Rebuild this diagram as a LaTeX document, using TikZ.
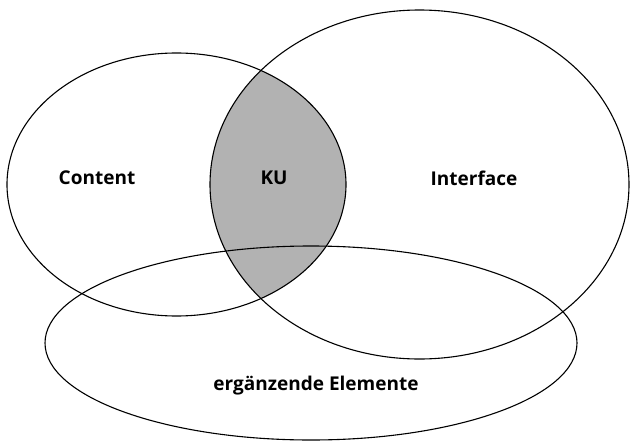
\documentclass[tikz,border=0pt]{standalone}
\usepackage{fontspec}
\setmainfont{Open Sans}
\begin{document}
\begin{tikzpicture}[x=1pt,y=-1pt,
  setline/.style={draw=black,line width=1.1pt},
  setlabel/.style={font=\bfseries\fontsize{19}{22}\selectfont,text=black}]
  \useasboundingbox (0,0) rectangle (630,442);
  % shared part of Content and Interface
  \begin{scope}
    \clip (176.5,184.5) ellipse [x radius=169.5, y radius=131.5];
    \fill[black!30] (419.5,184.5) ellipse [x radius=209.5, y radius=174.5];
  \end{scope}
  % the three sets
  \draw[setline] (176.5,184.5) ellipse [x radius=169.5, y radius=131.5];
  \draw[setline] (419.5,184.5) ellipse [x radius=209.5, y radius=174.5];
  \draw[setline] (311,343) ellipse [x radius=266, y radius=97];
  % labels
  \node[setlabel] (content) at (97,178) {Content};
  \node[setlabel] (ku) at (274,178) {KU};
  \node[setlabel] (interface) at (474,178) {Interface};
  \node[setlabel] (extra) at (316,386) {ergänzende Elemente};
\end{tikzpicture}
\end{document}
